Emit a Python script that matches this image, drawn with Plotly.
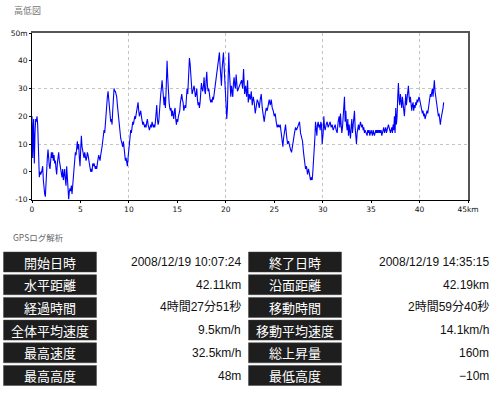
import plotly.graph_objects as go

W, H = 500, 396

# ---- elevation profile data (distance km, elevation m) ----
zx1 = [95,96,97,99,100,101,102,104,106,108,110,112,114,116,117,119,121,124,126,127,129,131,133,135,137,139,141,143,145,147,149,151,153,155,157,159,161,163,165,167,169,171,173,175,177,179,181,183,185,187,189,191,193,195,197,199,201,203,205,207,209,211,213,215,217,219,221,223,225,227,229,231,233,235,237,239,241,243,245,247,249,251,253,255,257,259,261,263,265,267,269,271,273,275,277,279,281,283,285,287,289,291,293,295,297,299,301,303,305,307,309,311,313,315,317,319,321,323,325,327,329,331,333,335,337,339,341,343,345,347,349,351,353,355,357,359,361,363,365,367,369,371,373,375,377,379,381,383,385,387,389,391,393,395,397,399,401,403,405,407,409,411,413,415,417,419,421,423,425,427,429,431,433,435,437,439,441,443,445,447,449,451,453,455,457,459,461,463,465,467,469,471,473,475,477,479,481,483,485,487,489,491,493,495,497,499,500,502,504,506,508,510,512,514,516,518,520,522,524,526,528,530,532,534,536,538,540,542,544,546,548,550,552,554,556,558,560,562,564,566,567,569,571,573,575,577,579,581,583,585,587,589,591,593,595,597,599,601,603,605,607,609,611,613,615,617,619,621,623,625,627,629,631,633,635,637,639,641,643,645,647,649,651,653,655,657,659,661,663,665,667,669,671,673,675,677,679,681,683,685,687,689,691,693,695,697,699,701,703,705,707,709,711]
el1 = [20,12,5,17,19,8,3,14,19,18,20,17,9,2,-2,0,-1,0,1,2,-3,-7,-8,-9,-3,2,5,8,4,2,1,4,7,5,7,4,6,3,4,1,-1,3,6,7,4,2,1,-1,-2,1,-3,-1,1,-3,-5,2,-4,-8,-10,-7,-6,-7,-5,-8,-5,-2,1,4,7,6,10,11,8,10,5,2,8,13,9,7,6,5,7,6,4,5,7,6,4,2,1,0,1,0,3,2,3,2,1,2,1,3,4,6,5,4,6,7,9,11,14,15,14,18,22,25,27,29,26,22,20,18,19,17,22,28,30,29,29,28,27,24,21,19,17,14,12,11,10,9,11,8,7,4,5,3,2,5,8,10,13,15,14,16,18,17,19,20,19,21,22,23,25,22,20,21,22,20,18,17,18,17,16,17,16,18,19,17,16,15,16,17,16,18,17,16,17,16,18,22,24,19,17,18,22,27,28,30,33,30,26,24,27,23,29,36,40,34,28,25,23,22,23,20,22,21,19,22,23,19,17,19,18,20,21,22,25,27,28,26,25,22,23,24,23,26,30,28,34,38,41,39,34,31,28,29,30,31,29,27,28,30,26,24,25,23,25,28,32,30,29,31,34,29,28,33,36,31,29,30,27,26,25,26,25,27,26,28,30,31,32,34,37,40,42,43,38,35,31,37,41,43,38,33,28,22,19,23,34,43,36,30,27,31,29,27,32,34,31,30,35,32]
zx2 = [0,3,6,9,12,15,18,20,23,26,29,32,35,38,41,44,47,50,53,56,59,62,65,68,71,74,77,80,83,86,89,92,95,98,101,104,107,110,113,116,119,121,124,126,129,132,135,138,141,144,147,150,153,156,159,162,165,168,171,174,177,180,183,186,189,192,195,198,201,204,207,210,212,214,217,220,222,224,226,228,230,232,234,236,238,240,242,245,247,249,251,254,257,260,263,266,269,272,275,278,281,284,287,290,293,295,297,299,301,303,305,307,309,311,313,315,317,319,321,323,325,327,329,331,333,335,337,339,341,343,345,347,349,351,353,355,357,359,361,363,365,367,369,371,373,375,377,379,381,383,385,387,389,391,393,395,397,399,401,403,405,407,409,411,413,415,417,419,421,423,425,427,429,431,433,435,437,439,441,443,445,447,449,451,453,455,457,459,461,463,465,467,469,471,473,475,477,479,481,483,485,487,489,491,493,495,497,499,501,503,505,507,509,511,513,515,517,519,521,523,525,527,529,531,533,535,537,539,541,543,545,547,549,551,553,555,557,559,561,563,565,567,569,571,573,575,577,579,581,583,585,587,589,591,593,595,597,599,601,603,605,607]
el2 = [29,33,30,37,28,31,27,33,25,28,26,29,24,27,25,21,24,26,25,23,26,28,23,21,18,21,23,22,25,26,24,26,23,22,20,21,18,16,17,16,17,14,11,9,12,15,17,13,10,11,9,8,7,10,13,14,16,15,16,17,18,14,12,11,7,4,1,2,-1,1,-1,-3,-2,-3,0,5,12,18,14,13,17,18,16,17,15,18,17,10,14,20,16,15,17,18,16,17,18,16,17,15,16,17,15,14,18,20,16,21,17,14,16,19,21,27,18,22,17,15,19,13,17,15,12,16,19,14,16,20,22,16,12,10,14,16,17,15,17,18,17,16,17,15,16,14,15,14,14,13,15,14,15,13,14,15,14,13,15,14,13,14,15,14,15,14,15,14,15,14,15,13,14,15,16,14,15,16,14,15,16,17,16,15,14,15,16,14,17,15,20,14,23,17,20,27,32,26,24,28,26,23,27,25,22,20,24,28,24,26,29,31,27,25,27,23,22,24,25,22,24,23,25,24,26,25,26,27,26,25,24,23,21,22,20,21,19,20,21,22,21,23,25,26,28,27,28,30,27,31,33,29,27,26,24,22,20,21,18,17,19,20,22,23,25,26]

distance_km = [round((z - 95) / 29.05, 3) for z in zx1] + [round((z + 629.5) / 29.1, 3) for z in zx2]
elevation_m = el1 + el2

x_ticks = [0, 5, 10, 15, 20, 25, 30, 35, 40, 45]
x_ticktext = ["0", "5", "10", "15", "20", "25", "30", "35", "40", "45km"]
y_ticks = [-10, 0, 10, 20, 30, 40, 50]
y_ticktext = ["-10", "0", "10", "20", "30", "40", "50m"]
x_grid = [10, 20, 30, 40]
y_grid = [10, 30]

# ---- table data ----
left_labels = ["開始日時", "水平距離", "経過時間", "全体平均速度", "最高速度", "最高高度"]
left_values = ["2008/12/19 10:07:24", "42.11km", "4時間27分51秒", "9.5km/h", "32.5km/h", "48m"]
right_labels = ["終了日時", "沿面距離", "移動時間", "移動平均速度", "総上昇量", "最低高度"]
right_values = ["2008/12/19 14:35:15", "42.19km", "2時間59分40秒", "14.1km/h", "160m", "−10m"]

def px(x):
    return x / W

def py(y):
    return 1 - y / H

fig = go.Figure()
fig.add_trace(go.Scatter(x=distance_km, y=elevation_m, mode="lines",
                         line=dict(color="#0000ff", width=1.1),
                         hoverinfo="skip", showlegend=False))
# empty trace for grid/frame axes
fig.add_trace(go.Scatter(x=[None], y=[None], xaxis="x2", yaxis="y2",
                         mode="lines", showlegend=False, hoverinfo="skip"))

tickfont = dict(family="DejaVu Sans", size=7.5, color="#111")
xdom = [px(32), px(468)]
ydom = [py(199.5), py(33)]

fig.update_layout(
    width=W, height=H,
    margin=dict(l=0, r=0, t=0, b=0, autoexpand=False),
    paper_bgcolor="white", plot_bgcolor="white",
    xaxis=dict(domain=xdom, range=[0, 45], tickvals=x_ticks, ticktext=x_ticktext,
               showgrid=False, zeroline=False, showline=True, linecolor="#000",
               linewidth=1, ticks="outside", ticklen=2, tickcolor="#000",
               tickfont=tickfont, fixedrange=True, automargin=False),
    yaxis=dict(domain=ydom, range=[-10, 50], tickvals=y_ticks, ticktext=y_ticktext,
               showgrid=False, zeroline=False, showline=True, linecolor="#000",
               linewidth=1, ticks="outside", ticklen=2, tickcolor="#000",
               tickfont=tickfont, fixedrange=True, automargin=False),
    xaxis2=dict(overlaying="x", side="top", range=[0, 45], tickvals=x_grid,
                showticklabels=False, showgrid=True, gridcolor="#c4c4c4",
                griddash="dot", gridwidth=1, zeroline=False, showline=True,
                linecolor="#555", linewidth=2, ticks="", fixedrange=True,
                automargin=False),
    yaxis2=dict(overlaying="y", side="right", range=[-10, 50], tickvals=y_grid,
                showticklabels=False, showgrid=True, gridcolor="#c4c4c4",
                griddash="dot", gridwidth=1, zeroline=False, showline=True,
                linecolor="#555", linewidth=2, ticks="", fixedrange=True,
                automargin=False),
)

annotations = [
    dict(text="高低図", x=px(12), y=py(10), xref="paper", yref="paper",
         xanchor="left", yanchor="middle", showarrow=False,
         font=dict(family="Noto Sans CJK JP", size=9, color="#777")),
    dict(text="GPSログ解析", x=px(11), y=py(237), xref="paper", yref="paper",
         xanchor="left", yanchor="middle", showarrow=False,
         font=dict(family="Noto Sans CJK JP", size=8.5, color="#666")),
]
shapes = []
row_top0 = 252
row_pitch = 22.7
box_h = 20
cols = [(3.5, 96.5, 243, left_labels, left_values),
        (248.5, 341.5, 491, right_labels, right_values)]
for bx0, bx1, vx, labels, values in cols:
    for i, (lab, val) in enumerate(zip(labels, values)):
        top = row_top0 + i * row_pitch
        shapes.append(dict(type="rect", xref="paper", yref="paper",
                           x0=px(bx0), x1=px(bx1), y0=py(top + box_h), y1=py(top),
                           fillcolor="#1e1e1e", line=dict(color="#444", width=0.5),
                           layer="above"))
        annotations.append(dict(text=lab, x=px((bx0 + bx1) / 2), y=py(top + box_h / 2),
                                xref="paper", yref="paper", xanchor="center",
                                yanchor="middle", showarrow=False,
                                font=dict(family="Noto Sans CJK JP", size=13,
                                          color="white")))
        annotations.append(dict(text=val, x=px(vx), y=py(top + box_h / 2),
                                xref="paper", yref="paper", xanchor="right",
                                yanchor="middle", showarrow=False,
                                font=dict(family="Liberation Sans, Noto Sans CJK JP",
                                          size=12, color="#111")))

fig.update_layout(annotations=annotations, shapes=shapes)
fig.write_html("out.html", config={"displayModeBar": False},
               post_script="document.body.style.margin='0';document.body.style.overflow='hidden';")
